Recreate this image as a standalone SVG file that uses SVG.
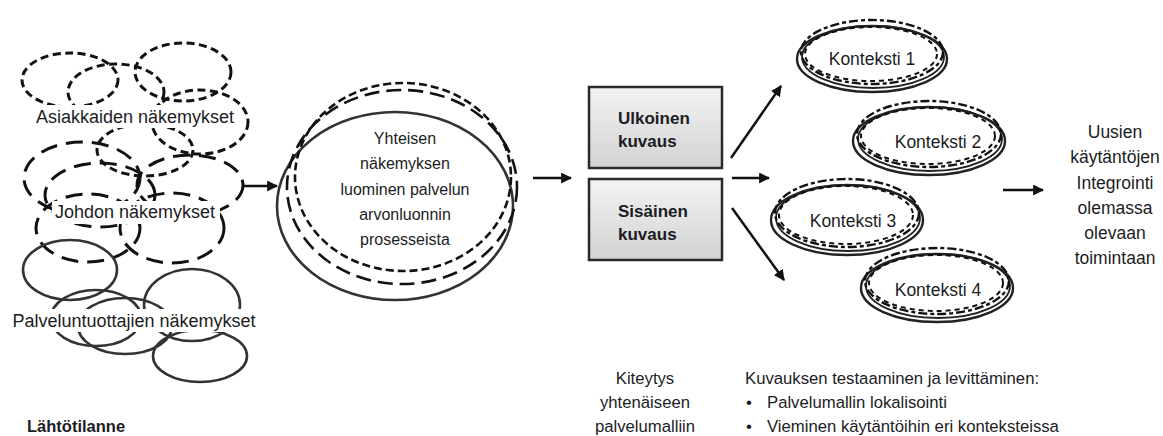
<svg xmlns="http://www.w3.org/2000/svg" width="1163" height="436" viewBox="0 0 1163 436">
<style>
text{font-family:"Liberation Sans",Arial,sans-serif;fill:#1c1c24}
.lbl{font-size:18px;text-anchor:middle}
.mid{font-size:16px;text-anchor:middle}
.box{font-size:17px;font-weight:bold}
.ctx{font-size:17.5px;text-anchor:middle}
.side{font-size:17.5px;text-anchor:middle}
.bot{font-size:16.7px}
.sd{fill:none;stroke:#111;stroke-width:3;stroke-dasharray:8 4.5}
.ld{fill:none;stroke:#111;stroke-width:3;stroke-dasharray:17 9}
.so{fill:none;stroke:#333;stroke-width:2.6}
.cs{fill:none;stroke:#222;stroke-width:2.4}
.cs2{fill:none;stroke:#222;stroke-width:1.8}
.cd{fill:none;stroke:#111;stroke-width:2.4;stroke-dasharray:9 3 4 3}
.cd2{fill:none;stroke:#111;stroke-width:2;stroke-dasharray:5 4}
.bx{fill:url(#g);stroke:#2a2a2a;stroke-width:2.5}
.ar{fill:none;stroke:#111;stroke-width:2.5;marker-end:url(#ah)}
</style>
<defs>
<linearGradient id="g" x1="0" y1="0" x2="0" y2="1">
<stop offset="0" stop-color="#f3f3f3"/>
<stop offset="1" stop-color="#d2d2d2"/>
</linearGradient>
<marker id="ah" viewBox="0 0 10 10" refX="9" refY="5" markerWidth="11" markerHeight="11" markerUnits="userSpaceOnUse" orient="auto">
<path d="M0,0 L10,5 L0,10 z" fill="#111"/>
</marker>
</defs>
<rect width="1163" height="436" fill="#fff"/>

<g id="lahtotilanne">
<g id="asiakkaiden">
<ellipse class="sd" cx="70" cy="80" rx="48" ry="27"/>
<ellipse class="sd" cx="116" cy="92" rx="48" ry="28"/>
<ellipse class="sd" cx="183" cy="72" rx="48" ry="29"/>
<ellipse class="sd" cx="145" cy="150" rx="48" ry="26"/>
<ellipse class="sd" cx="200" cy="122" rx="48" ry="32"/>
</g>
<g id="johdon">
<ellipse class="ld" cx="82" cy="178" rx="58" ry="36"/>
<ellipse class="ld" cx="100" cy="195" rx="55" ry="32"/>
<ellipse class="ld" cx="190" cy="185" rx="53" ry="30"/>
<ellipse class="ld" cx="172" cy="228" rx="52" ry="35"/>
<ellipse class="ld" cx="88" cy="228" rx="52" ry="34"/>
</g>
<g id="palveluntuottajien">
<ellipse class="so" cx="70" cy="270" rx="47" ry="30"/>
<ellipse class="so" cx="96" cy="318" rx="45" ry="28"/>
<ellipse class="so" cx="192" cy="305" rx="48" ry="36"/>
<ellipse class="so" cx="125" cy="326" rx="47" ry="28"/>
<ellipse class="so" cx="200" cy="356" rx="47" ry="26"/>
</g>
<rect x="34" y="105" width="204" height="23" fill="#fff"/>
<rect x="52" y="201" width="168" height="23" fill="#fff"/>
<rect x="8" y="309" width="253" height="23" fill="#fff"/>
<text class="lbl" x="135" y="123">Asiakkaiden näkemykset</text>
<text class="lbl" x="135" y="218">Johdon näkemykset</text>
<text class="lbl" x="134" y="327">Palveluntuottajien näkemykset</text>
<text x="27" y="432" style="font-size:16.5px;font-weight:bold">Lähtötilanne</text>
</g>

<g id="yhteinen">
<ellipse class="so" cx="395" cy="206" rx="118" ry="94"/>
<ellipse class="ld" cx="402" cy="187" rx="115" ry="97" style="stroke-dasharray:15 7;stroke-width:2.6"/>
<ellipse class="sd" cx="403" cy="177" rx="108" ry="94" style="stroke-dasharray:8 4;stroke-width:2.6"/>
<text class="mid" x="405" y="144">Yhteisen</text>
<text class="mid" x="405" y="169">näkemyksen</text>
<text class="mid" x="405" y="195">luominen palvelun</text>
<text class="mid" x="405" y="220">arvonluonnin</text>
<text class="mid" x="405" y="245">prosesseista</text>
</g>

<g id="ulkoinen">
<rect class="bx" x="589" y="87" width="133" height="81"/>
<text class="box" x="618" y="124">Ulkoinen</text>
<text class="box" x="618" y="147">kuvaus</text>
</g>
<g id="sisainen">
<rect class="bx" x="589" y="179" width="133" height="81"/>
<text class="box" x="618" y="217">Sisäinen</text>
<text class="box" x="618" y="240">kuvaus</text>
</g>

<g id="konteksti1">
<ellipse class="cs" cx="872" cy="59" rx="75" ry="33"/>
<ellipse class="cs2" cx="873" cy="57" rx="71" ry="31"/>
<ellipse class="cd" cx="872" cy="52" rx="71" ry="32"/>
<ellipse class="cd2" cx="871" cy="54" rx="66" ry="27"/>
<text class="ctx" x="872" y="65">Konteksti 1</text>
</g>
<g id="konteksti2">
<ellipse class="cs" cx="929" cy="141" rx="76" ry="34"/>
<ellipse class="cs2" cx="930" cy="139" rx="72" ry="32"/>
<ellipse class="cd" cx="929" cy="134" rx="72" ry="33"/>
<ellipse class="cd2" cx="928" cy="136" rx="67" ry="28"/>
<text class="ctx" x="938" y="148">Konteksti 2</text>
</g>
<g id="konteksti3">
<ellipse class="cs" cx="847" cy="220" rx="76" ry="35"/>
<ellipse class="cs2" cx="848" cy="218" rx="72" ry="33"/>
<ellipse class="cd" cx="847" cy="213" rx="72" ry="34"/>
<ellipse class="cd2" cx="846" cy="215" rx="67" ry="29"/>
<text class="ctx" x="853" y="227">Konteksti 3</text>
</g>
<g id="konteksti4">
<ellipse class="cs" cx="937" cy="288" rx="76" ry="34"/>
<ellipse class="cs2" cx="938" cy="286" rx="72" ry="32"/>
<ellipse class="cd" cx="937" cy="281" rx="72" ry="33"/>
<ellipse class="cd2" cx="936" cy="283" rx="67" ry="28"/>
<text class="ctx" x="938" y="296">Konteksti 4</text>
</g>

<g id="integrointi">
<text class="side" x="1115" y="138">Uusien</text>
<text class="side" x="1115" y="163">käytäntöjen</text>
<text class="side" x="1115" y="189">Integrointi</text>
<text class="side" x="1115" y="214">olemassa</text>
<text class="side" x="1115" y="239">olevaan</text>
<text class="side" x="1115" y="264">toimintaan</text>
</g>

<g id="kiteytys">
<text class="bot" x="645" y="384" text-anchor="middle">Kiteytys</text>
<text class="bot" x="645" y="408" text-anchor="middle">yhtenäiseen</text>
<text class="bot" x="645" y="432" text-anchor="middle">palvelumalliin</text>
</g>
<g id="testaaminen">
<text class="bot" x="745" y="384">Kuvauksen testaaminen ja levittäminen:</text>
<text class="bot" x="746" y="408">•</text>
<text class="bot" x="767" y="408">Palvelumallin lokalisointi</text>
<text class="bot" x="746" y="432">•</text>
<text class="bot" x="767" y="432">Vieminen käytäntöihin eri konteksteissa</text>
</g>

<g id="connectors">
<line class="ar" x1="243" y1="186" x2="277" y2="186"/>
<line class="ar" x1="533" y1="178" x2="571" y2="178"/>
<line class="ar" x1="731" y1="158" x2="781" y2="86"/>
<line class="ar" x1="732" y1="178" x2="769" y2="178"/>
<line class="ar" x1="732" y1="208" x2="784" y2="280"/>
<line class="ar" x1="1003" y1="190" x2="1043" y2="190"/>
</g>
</svg>
